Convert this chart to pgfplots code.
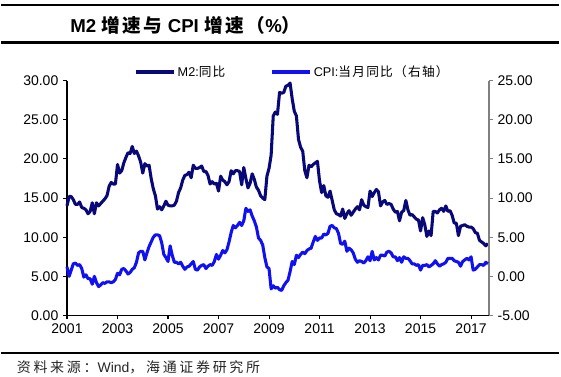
\documentclass[border=0pt]{standalone}
\usepackage{pgfplots}
\pgfplotsset{compat=1.18}
\usepackage{pgfplotstable}
\usepackage{fontspec}
\setmainfont{Liberation Sans}
\newfontfamily\cjk{Noto Sans CJK SC}
\newfontfamily\cjkt{Noto Sans CJK SC}[LetterSpace=14]
\newfontfamily\cjks{Noto Sans CJK SC}[LetterSpace=19]
\newfontfamily\cjkl{Noto Sans CJK SC}[LetterSpace=10]
\definecolor{m2col}{RGB}{8,8,120}
\definecolor{cpicol}{RGB}{16,16,240}
\definecolor{raxis}{RGB}{128,128,128}

\pgfplotstableread{
m2 cpi
14.0 1.2
15.2 0.0
15.2 0.8
14.8 1.6
14.2 1.7
14.2 1.4
14.5 1.5
13.8 1.0
13.7 -0.1
13.5 0.2
13.0 -0.3
13.3 -0.3
14.4 -1.0
13.0 0.0
14.4 -0.8
14.0 -1.3
14.3 -1.1
14.6 -0.8
14.9 -0.9
15.3 -0.7
16.5 -0.7
17.0 -0.8
16.8 -0.7
16.8 -0.4
19.3 0.4
18.2 0.2
18.5 0.9
19.5 1.0
20.2 0.7
20.8 0.3
20.7 0.5
21.6 0.9
20.7 1.1
21.0 1.8
20.4 3.0
19.6 3.2
18.2 3.2
19.4 2.1
19.1 3.0
19.2 3.8
17.5 4.4
16.2 5.0
15.3 5.3
13.6 5.3
13.9 5.2
13.5 4.3
14.0 2.8
14.6 2.4
14.1 1.9
14.0 3.9
14.0 2.7
14.1 1.8
14.6 1.8
15.7 1.6
16.3 1.8
17.3 1.3
17.9 0.9
18.0 1.2
18.3 1.3
17.6 1.6
19.2 1.9
18.8 0.9
18.8 0.8
18.9 1.2
19.1 1.4
18.4 1.5
18.4 1.0
17.9 1.3
16.8 1.5
17.1 1.4
16.8 1.9
16.9 2.8
15.9 2.2
17.8 2.7
17.3 3.3
17.1 3.0
16.7 3.4
17.1 4.4
18.5 5.6
18.1 6.5
18.5 6.2
18.5 6.5
18.4 6.9
16.7 6.5
18.9 7.1
17.5 8.7
16.3 8.3
16.9 8.5
18.1 7.7
17.4 7.1
16.4 6.3
16.0 4.9
15.3 4.6
15.0 4.0
14.8 2.4
17.8 1.2
18.8 1.0
20.5 -1.6
25.5 -1.2
26.0 -1.5
25.7 -1.4
28.5 -1.7
28.4 -1.8
28.5 -1.2
29.3 -0.8
29.4 -0.5
29.7 0.6
27.7 1.9
26.1 1.5
25.5 2.7
22.5 2.4
21.5 2.8
21.0 3.1
18.5 2.9
17.6 3.3
19.2 3.5
19.0 3.6
19.3 4.4
19.5 5.1
19.7 4.6
17.2 4.9
15.7 4.9
16.6 5.4
15.3 5.3
15.1 5.5
15.9 6.4
14.7 6.5
13.5 6.2
13.0 6.1
12.9 5.5
12.7 4.2
13.6 4.1
12.4 4.5
13.0 3.2
13.4 3.6
12.8 3.4
13.2 3.0
13.6 2.2
13.9 1.8
13.5 2.0
14.8 1.9
14.1 1.7
13.9 2.0
13.8 2.5
15.9 2.0
15.2 3.2
15.7 2.1
16.1 2.4
15.8 2.1
14.0 2.7
14.5 2.7
14.7 2.6
14.2 3.1
14.3 3.2
14.2 3.0
13.6 2.5
13.2 2.5
13.3 2.0
12.1 2.4
13.2 1.8
13.4 2.5
14.7 2.3
13.5 2.3
12.8 2.0
12.9 1.6
12.6 1.6
12.3 1.4
12.2 1.5
10.8 0.8
12.5 1.4
11.6 1.4
10.1 1.5
10.8 1.2
10.2 1.4
13.3 1.6
13.3 2.0
13.1 1.6
13.5 1.3
13.7 1.5
13.3 1.6
14.0 1.8
13.3 2.3
13.4 2.3
12.8 2.3
11.8 2.0
11.8 1.9
10.2 1.8
11.4 1.3
11.5 1.9
11.6 2.1
11.4 2.3
11.3 2.1
11.3 2.5
11.1 0.8
10.6 0.9
10.5 1.2
9.6 1.5
9.4 1.5
9.2 1.4
8.9 1.8
9.2 1.6
}\data

\begin{document}
\begin{tikzpicture}
\useasboundingbox (0,0) rectangle (420.75pt,282.75pt);
% rules
\draw[line width=1.6pt] (1pt,279pt) -- (419pt,279pt);
\draw[line width=1.6pt] (1pt,250.9pt) -- (419pt,250.9pt);
\draw[line width=1.6pt] (1pt,18pt) -- (419pt,18pt);
\node[anchor=west, inner sep=0pt, font=\fontsize{14}{16}\selectfont\bfseries] at (52.5pt,263.5pt)
  {M2 {\cjkt\bfseries 增速与} CPI {\cjkt\bfseries 增速（}\%{\cjkt\bfseries ）}};
\node[anchor=west, inner sep=0pt, font=\fontsize{10.5}{12}\selectfont, text=black!85] at (12.5pt,7.5pt)
  {{\cjks 资料来源：}Wind{\cjks ，海通证券研究所}};

\begin{axis}[
  at={(50.25pt,46.125pt)}, anchor=south west,
  scale only axis, width=316.5pt, height=176.1pt,
  xmin=2001, xmax=2017.71, ymin=0, ymax=30,
  axis x line*=bottom, axis y line*=left,
  axis line style={black, line width=0.8pt},
  tick align=outside, major tick length=3pt,
  tick style={black, line width=0.8pt},
  xtick={2001,2003,...,2017},
  ytick={0,5,...,30},
  /pgf/number format/assume math mode=true,
  xticklabel style={/pgf/number format/1000 sep={}, font=\fontsize{10.5}{12}\selectfont},
  yticklabel style={/pgf/number format/.cd, fixed, fixed zerofill, precision=2, /tikz/.cd, font=\fontsize{10.5}{12}\selectfont},
  clip=false,
]
\addplot[m2col, line width=2.3pt, line join=round] table[x expr=2001+\coordindex/12, y=m2] {\data};
\end{axis}

\begin{axis}[
  at={(50.25pt,46.125pt)}, anchor=south west,
  scale only axis, width=316.5pt, height=176.1pt,
  xmin=2001, xmax=2017.71, ymin=-5, ymax=25,
  axis x line=none, axis y line*=right,
  axis line style={raxis, line width=0.8pt},
  tick align=outside, major tick length=3pt,
  tick style={raxis, line width=0.8pt},
  ytick={-5,0,...,25},
  /pgf/number format/assume math mode=true,
  yticklabel style={/pgf/number format/.cd, fixed, fixed zerofill, precision=2, /tikz/.cd, font=\fontsize{10.5}{12}\selectfont},
  legend columns=2,
  legend style={draw=none, fill=none, at={(0.5355,1.037)}, anchor=center,
    font=\fontsize{9.5}{11}\selectfont, inner sep=0pt,
    /tikz/every even column/.append style={column sep=32pt}},
  legend image code/.code={\draw[#1] (0pt,0pt) -- (28pt,0pt);},
  clip=false,
]
\addlegendimage{m2col, line width=2.3pt}
\addlegendentry{M2:{\cjkl 同比}}
\addplot[cpicol, line width=2.3pt, line join=round] table[x expr=2001+\coordindex/12, y=cpi] {\data};
\addlegendentry{CPI:{\cjkl 当月同比（右轴）}}
\end{axis}
\end{tikzpicture}
\end{document}
